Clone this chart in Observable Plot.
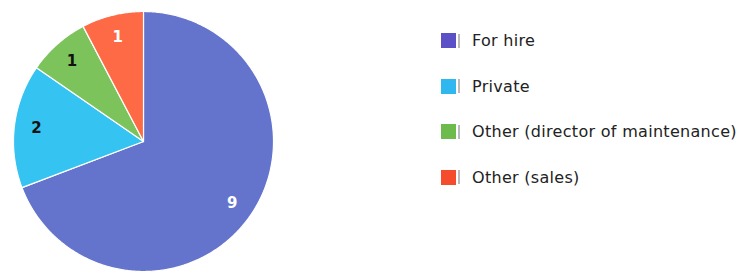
<!DOCTYPE html>
<html><head><meta charset="utf-8">
<script src="https://cdn.jsdelivr.net/npm/d3@7"></script>
<script src="https://cdn.jsdelivr.net/npm/@observablehq/plot@0.6"></script>
<style>
body{margin:0;background:#fff;}
#wrap{position:relative;width:739px;height:272px;}
#legend{position:absolute;left:441px;top:33px;font-family:"DejaVu Sans",sans-serif;font-size:16px;letter-spacing:0.3px;color:#222;}
.row{display:flex;align-items:center;height:15px;margin-bottom:30.5px;}
.sw{width:15px;height:15px;margin-right:2px;}
.sh{width:2px;height:14px;background:#bbb;margin-right:12px;}
</style></head>
<body><div id="wrap"><div id="chart"></div><div id="legend"></div></div>
<script>
const categories = ["For hire", "Private", "Other (director of maintenance)", "Other (sales)"];
const values = [9, 2, 1, 1];
const colors = ["#6474cc", "#35c3f1", "#7dc35c", "#fe6a45"];
const legendColors = ["#5b50c6", "#2fb7f0", "#6dbb4c", "#f44c2c"];
const labelColors = ["#ffffff", "#111111", "#111111", "#ffffff"];

const arcs = d3.pie().sort(null).value(d => d.value)(categories.map((c, i) => ({cat: c, value: values[i]})));
const pts = [];
arcs.forEach(a => {
  const n = Math.max(2, Math.ceil((a.endAngle - a.startAngle) / 0.01));
  pts.push({cat: a.data.cat, x: 0, y: 0});
  for (let k = 0; k <= n; k++) {
    const t = a.startAngle + (a.endAngle - a.startAngle) * k / n;
    pts.push({cat: a.data.cat, x: Math.sin(t), y: Math.cos(t)});
  }
  pts.push({cat: a.data.cat, x: 0, y: 0});
});
const labs = arcs.map((a, i) => {
  const m = (a.startAngle + a.endAngle) / 2;
  return {x: 0.83 * Math.sin(m), y: 0.83 * Math.cos(m), text: String(values[i]), color: labelColors[i]};
});

const chart = Plot.plot({
  width: 739, height: 272,
  margin: 0,
  x: {domain: [-1, 1], range: [13, 273], axis: null},
  y: {domain: [-1, 1], range: [271, 11], axis: null},
  color: {domain: categories, range: colors},
  marks: [
    Plot.line(pts, {x: "x", y: "y", z: "cat", fill: "cat", stroke: "white", strokeWidth: 1.2, curve: "linear"}),
    Plot.text(labs, {x: "x", y: "y", text: "text", fill: "color", fontSize: 15, fontWeight: "bold", fontFamily: "DejaVu Sans, sans-serif"})
  ]
});
document.getElementById("chart").appendChild(chart);

const leg = document.getElementById("legend");
categories.forEach((c, i) => {
  const r = document.createElement("div"); r.className = "row";
  r.innerHTML = `<div class="sw" style="background:${legendColors[i]}"></div><div class="sh"></div><span>${c}</span>`;
  leg.appendChild(r);
});
</script></body></html>
